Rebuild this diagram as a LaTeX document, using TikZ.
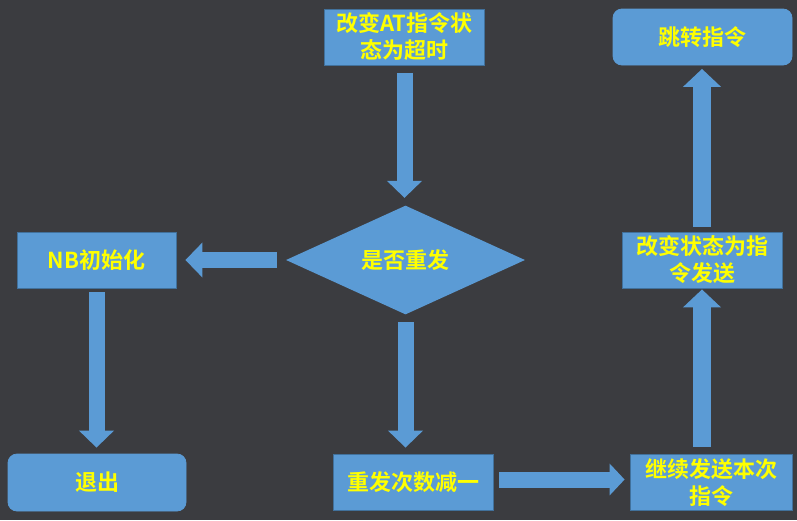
\documentclass[tikz,border=0pt]{standalone}
\usepackage{fontspec}
\setmainfont{Noto Sans CJK SC}[BoldFont={Noto Sans CJK SC Bold}]
\usetikzlibrary{arrows.meta,shapes.geometric}
\definecolor{bg}{HTML}{3B3C40}
\definecolor{boxfill}{HTML}{5B9BD5}
\definecolor{boxline}{HTML}{41719C}
\definecolor{txt}{HTML}{FFFF00}
\tikzset{
  box/.style={draw=boxline, line width=0.8pt, fill=boxfill, text=txt,
    font=\fontsize{22}{27}\selectfont\bfseries, align=center, inner sep=0pt,
    minimum width=160pt, minimum height=56pt},
  rbox/.style={box, draw=boxfill, rounded corners=9pt},
  dbox/.style={diamond, fill=boxfill, text=txt, inner sep=0pt,
    font=\fontsize{22}{27}\selectfont\bfseries,
    minimum width=239pt, minimum height=107pt},
  barrow/.style={draw=boxfill, line width=16pt, line cap=butt,
    -{Triangle[width=34pt,length=17pt]}},
  barrowb/.style={draw=boxfill, line width=18pt, line cap=butt,
    -{Triangle[width=37pt,length=18pt]}}
}
\begin{document}
\begin{tikzpicture}[x=1pt,y=-1pt]
\fill[bg] (0,0) rectangle (797,520);
\useasboundingbox (0,0) rectangle (797,520);

\node[box] (a) at (404.5,37) {改变AT指令状\\态为超时};
\node[dbox] (b) at (405.5,260) {是否重发};
\node[box, minimum width=159pt] (c) at (96.5,260) {NB初始化};
\node[rbox, minimum width=178pt, minimum height=57pt] (d) at (97,482.5) {退出};
\node[box] (e) at (413,482.5) {重发次数减一};
\node[box, minimum width=162pt] (f) at (711,482.5) {继续发送本次\\指令};
\node[box] (g) at (702,260) {改变状态为指\\令发送};
\node[rbox, minimum width=179pt] (h) at (702.5,37) {跳转指令};

\draw[barrow] ([yshift=-7.5pt]a.south) -- ([yshift=7.5pt]a.south |- b.north);
\draw[barrow] ([xshift=-9pt]b.west) -- ([xshift=9pt]c.east);
\draw[barrow] ([yshift=-4pt]c.south) -- ([yshift=6pt]c.south |- d.north);
\draw[barrow] ([yshift=-7.5pt]b.south) -- ([yshift=6.5pt]b.south |- e.north);
\draw[barrow, -{Triangle[width=31pt,length=15pt]}] ([xshift=6pt,yshift=3pt]e.east) -- ([xshift=-5pt,yshift=3pt]e.east -| f.west);
\draw[barrowb] ([yshift=7.5pt]g.south |- f.north) -- ([yshift=-1pt]g.south);
\draw[barrowb] ([yshift=5pt]g.north) -- ([yshift=-3.5pt]g.north |- h.south);
\end{tikzpicture}
\end{document}
